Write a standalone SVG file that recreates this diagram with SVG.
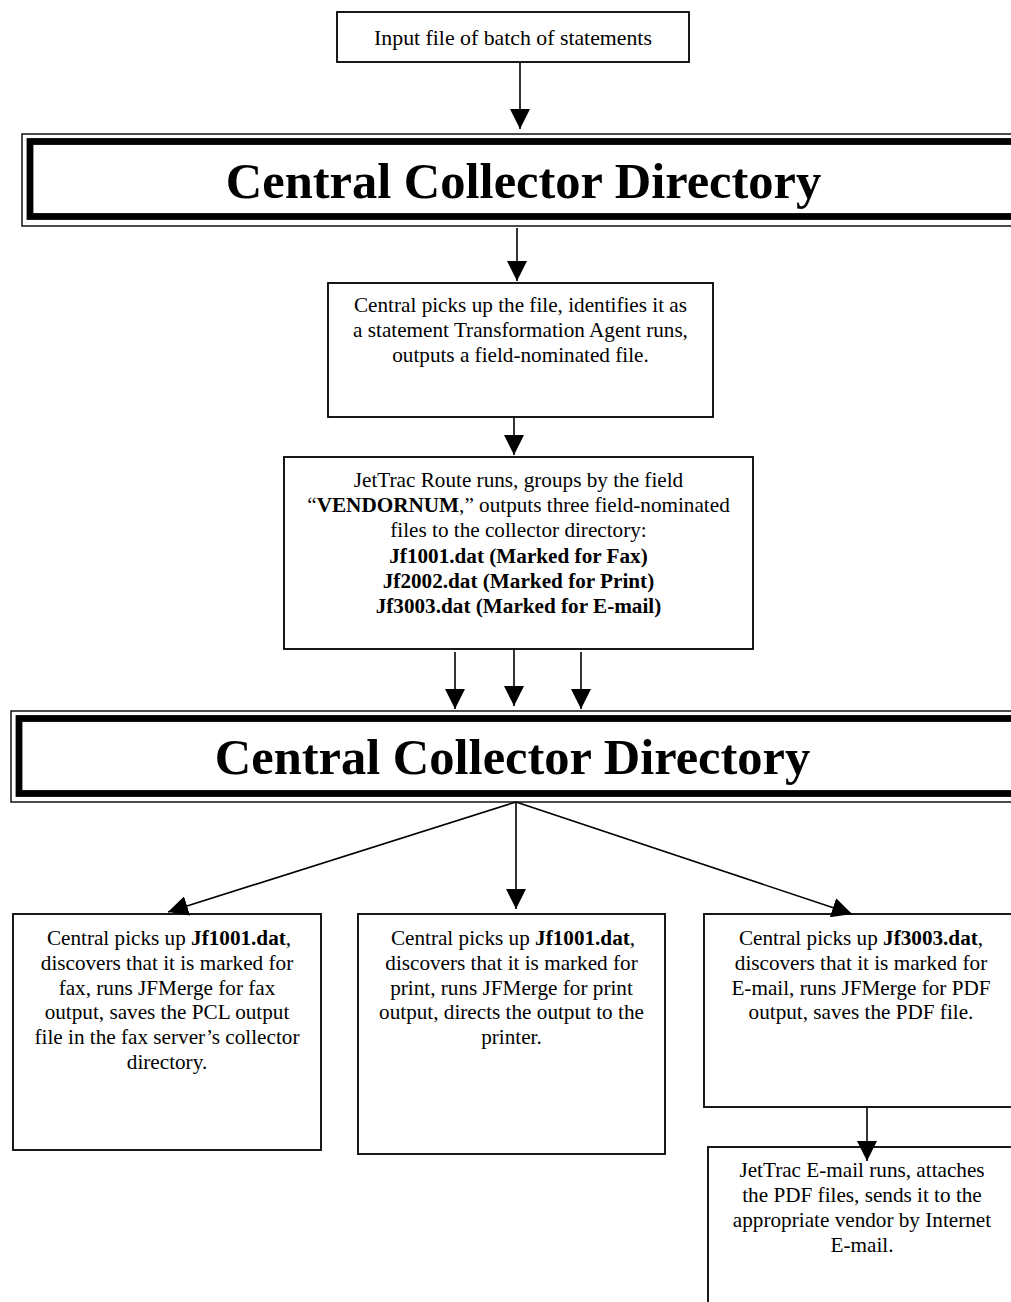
<svg xmlns="http://www.w3.org/2000/svg" width="1011" height="1302" viewBox="0 0 1011 1302">
<style>
.box{fill:#fff;stroke:#000;stroke-width:1.8}
.thin{fill:#fff;stroke:#000;stroke-width:1.4}
.thick{fill:none;stroke:#000;stroke-width:6.8}
.t{font-family:"Liberation Serif","Times New Roman",serif;font-size:21.2px;fill:#000;text-anchor:middle}
.big{font-family:"Liberation Serif","Times New Roman",serif;font-size:50.5px;font-weight:bold;fill:#000;text-anchor:middle}
.b{font-weight:bold}
.c{fill:none;stroke:#000;stroke-width:1.6}
</style>
<defs>
<marker id="ah" viewBox="0 0 20 20" refX="20" refY="10" markerWidth="20" markerHeight="20" markerUnits="userSpaceOnUse" orient="auto">
<path d="M0,0 L20,10 L0,20 Z" fill="#000"/>
</marker>
</defs>
<rect width="1011" height="1302" fill="#fff"/>

<g id="input">
<rect class="box" x="337" y="12" width="352" height="50"/>
<text class="t" x="513" y="45" style="font-size:21.8px">Input file of batch of statements</text>
</g>

<g id="collector1">
<rect class="thin" x="22" y="134" width="1010" height="92"/>
<rect class="thick" x="30" y="141.5" width="1000" height="75"/>
<text class="big" x="523.5" y="198">Central Collector Directory</text>
</g>

<g id="transform">
<rect class="box" x="328" y="283" width="385" height="134"/>
<text class="t" x="520.5" y="312">Central picks up the file, identifies it as</text>
<text class="t" x="520.5" y="337">a statement Transformation Agent runs,</text>
<text class="t" x="520.5" y="362">outputs a field-nominated file.</text>
</g>

<g id="route">
<rect class="box" x="284" y="457" width="469" height="192"/>
<text class="t" x="518.5" y="487">JetTrac Route runs, groups by the field</text>
<text class="t" x="518.5" y="512">“<tspan class="b">VENDORNUM</tspan>,” outputs three field-nominated</text>
<text class="t" x="518.5" y="537">files to the collector directory:</text>
<text class="t b" x="518.5" y="563">Jf1001.dat (Marked for Fax)</text>
<text class="t b" x="518.5" y="588">Jf2002.dat (Marked for Print)</text>
<text class="t b" x="518.5" y="613">Jf3003.dat (Marked for E-mail)</text>
</g>

<g id="collector2">
<rect class="thin" x="11" y="711" width="1020" height="91"/>
<rect class="thick" x="19" y="718.5" width="1010" height="75"/>
<text class="big" x="512.5" y="774">Central Collector Directory</text>
</g>

<g id="fax">
<rect class="box" x="13" y="914" width="308" height="236"/>
<text class="t" x="169" y="945">Central picks up <tspan class="b">Jf1001.dat</tspan>,</text>
<text class="t" x="167" y="970">discovers that it is marked for</text>
<text class="t" x="167" y="995">fax, runs JFMerge for fax</text>
<text class="t" x="167" y="1019">output, saves the PCL output</text>
<text class="t" x="167" y="1044">file in the fax server’s collector</text>
<text class="t" x="167" y="1069">directory.</text>
</g>

<g id="print">
<rect class="box" x="358" y="914" width="307" height="240"/>
<text class="t" x="513" y="945">Central picks up <tspan class="b">Jf1001.dat</tspan>,</text>
<text class="t" x="511.5" y="970">discovers that it is marked for</text>
<text class="t" x="511.5" y="995">print, runs JFMerge for print</text>
<text class="t" x="511.5" y="1019">output, directs the output to the</text>
<text class="t" x="511.5" y="1044">printer.</text>
</g>

<g id="email">
<rect class="box" x="704" y="914" width="320" height="193"/>
<text class="t" x="861" y="945">Central picks up <tspan class="b">Jf3003.dat</tspan>,</text>
<text class="t" x="861" y="970">discovers that it is marked for</text>
<text class="t" x="861" y="995">E-mail, runs JFMerge for PDF</text>
<text class="t" x="861" y="1019">output, saves the PDF file.</text>
</g>

<g id="send">
<rect class="box" x="708" y="1147" width="320" height="170"/>
<text class="t" x="862" y="1177">JetTrac E-mail runs, attaches</text>
<text class="t" x="862" y="1202">the PDF files, sends it to the</text>
<text class="t" x="862" y="1227">appropriate vendor by Internet</text>
<text class="t" x="862" y="1252">E-mail.</text>
</g>

<g id="connectors">
<line class="c" x1="520" y1="62" x2="520" y2="129" marker-end="url(#ah)"/>
<line class="c" x1="517" y1="228" x2="517" y2="281" marker-end="url(#ah)"/>
<line class="c" x1="514" y1="417" x2="514" y2="455" marker-end="url(#ah)"/>
<line class="c" x1="455" y1="652" x2="455" y2="709" marker-end="url(#ah)"/>
<line class="c" x1="514" y1="649" x2="514" y2="706" marker-end="url(#ah)"/>
<line class="c" x1="581" y1="652" x2="581" y2="709" marker-end="url(#ah)"/>
<line class="c" x1="516" y1="802" x2="168" y2="912" marker-end="url(#ah)"/>
<line class="c" x1="516" y1="802" x2="516" y2="909" marker-end="url(#ah)"/>
<line class="c" x1="516" y1="802" x2="852" y2="914" marker-end="url(#ah)"/>
<line class="c" x1="867" y1="1107" x2="867" y2="1161" marker-end="url(#ah)"/>
</g>
</svg>
